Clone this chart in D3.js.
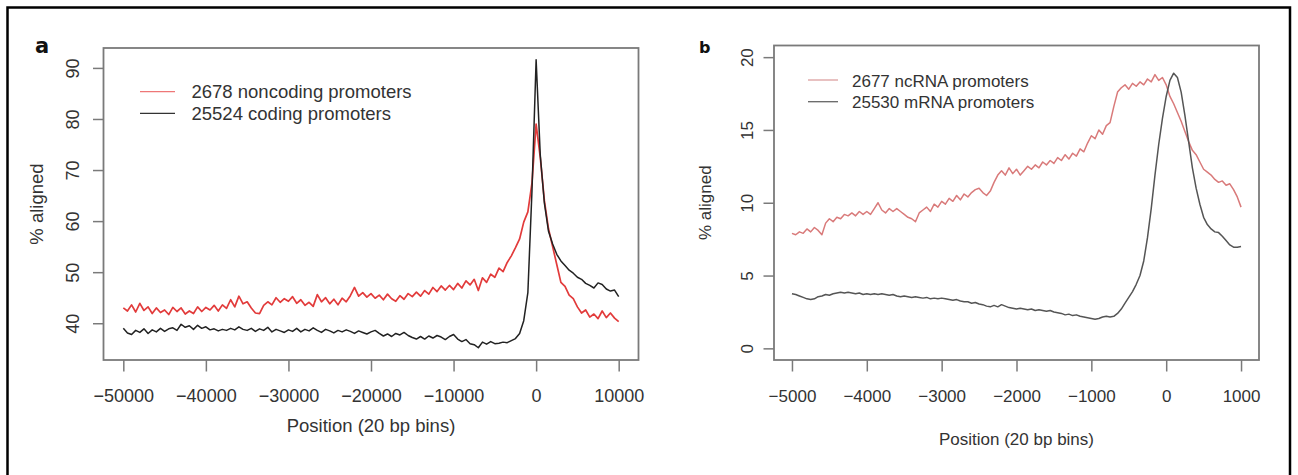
<!DOCTYPE html>
<html>
<head>
<meta charset="utf-8">
<script src="https://cdn.jsdelivr.net/npm/d3@7"></script>
<style>
  html, body { margin: 0; padding: 0; background: #fff; }
  svg text { font-family: "Liberation Sans", Arial, sans-serif; fill: #333; }
</style>
</head>
<body>
<svg id="chart" width="1298" height="475"></svg>
<script>
// panel a: 20 bp bins, read every 500 positions
const binsA = d3.range(-50000, 10001, 500);
const noncodingA = [
  43.0, 42.4, 43.6, 42.2, 43.9, 42.5, 43.2, 41.9, 43.0, 42.1,
  42.6, 41.7, 43.1, 42.3, 43.0, 41.8, 42.4, 41.9, 43.2, 42.3,
  43.1, 42.6, 43.5, 42.4, 43.6, 42.9, 44.6, 43.2, 45.3, 43.8,
  44.2, 43.0, 42.0, 41.9, 43.5, 44.2, 43.6, 45.0, 44.1, 44.8,
  44.3, 45.2, 43.9, 44.6, 43.5, 44.1, 43.3, 45.6, 44.2, 45.0,
  43.8, 44.7, 43.6, 44.9, 44.2, 45.4, 47.0, 45.3, 46.0, 45.1,
  45.8, 44.9, 45.5, 44.6, 45.7, 44.8, 44.3, 45.4, 44.7, 45.8,
  45.2, 46.1, 45.3, 46.4, 45.7, 47.0, 46.2, 47.3, 46.5, 47.4,
  46.6, 47.8, 46.9, 48.3, 47.5, 48.6, 46.4, 48.9, 48.0, 49.6,
  49.0, 50.8, 50.1, 51.9, 53.2, 54.8, 56.5, 59.8, 61.8, 67.5,
  79.0, 72.5, 64.0, 58.5, 55.0, 51.5, 48.0, 47.2, 45.5, 44.8,
  43.2, 42.0, 42.6, 41.2, 41.8, 40.9, 42.4, 41.1, 42.0, 41.0,
  40.3
];
const codingA = [
  39.0, 38.1, 37.8, 38.6, 38.2, 38.9, 38.0, 38.7, 38.3, 39.0,
  38.4, 38.9, 39.1, 38.6, 39.8, 39.2, 39.5, 38.8, 39.6, 39.0,
  39.3, 38.7, 38.9, 38.5, 38.8, 38.6, 39.0, 38.7, 39.3, 38.8,
  38.6, 39.0, 38.4, 38.9, 38.6, 39.2, 38.3, 38.8, 38.5, 38.2,
  38.7, 38.4, 39.0, 38.3, 38.8, 38.5, 39.1, 38.6, 38.2, 38.8,
  38.5, 38.1, 38.6, 38.3, 38.7, 38.4, 38.0, 38.5, 38.2, 37.9,
  38.3, 38.6, 38.0, 37.5, 37.9, 37.4, 38.0, 37.7, 38.2, 37.6,
  37.2, 36.9, 37.4, 36.9, 37.5, 37.1, 37.6, 37.3, 36.8, 37.4,
  37.8, 36.9, 36.4, 36.8, 36.0, 35.8, 35.2, 36.3, 35.9, 36.4,
  36.0, 36.1, 36.3, 36.2, 36.6, 37.0, 38.0, 40.5, 46.0, 66.0,
  91.6, 73.0, 63.5, 58.0, 55.5, 53.5, 52.2, 51.3, 50.4, 49.8,
  49.0, 48.6, 47.8, 47.4, 46.9, 47.9, 47.6, 46.7, 46.3, 46.5,
  45.2
];
const xTicksA = [-50000, -40000, -30000, -20000, -10000, 0, 10000];
const yTicksA = [40, 50, 60, 70, 80, 90];
const legendA = ["2678 noncoding promoters", "25524 coding promoters"];

// panel b: read every 50 positions
const binsB = d3.range(-5000, 1001, 50);
const ncrnaB = [
  7.9, 7.8, 8.0, 7.9, 8.2, 8.0, 8.3, 8.1, 7.8, 8.6,
  8.9, 8.7, 9.0, 8.9, 9.2, 9.1, 9.3, 9.1, 9.4, 9.2,
  9.4, 9.2, 9.6, 10.0, 9.5, 9.3, 9.6, 9.4, 9.6, 9.4,
  9.2, 9.0, 8.9, 8.7, 9.3, 9.5, 9.7, 9.4, 9.9, 9.7,
  10.1, 9.9, 10.3, 10.1, 10.5, 10.2, 10.6, 10.4, 10.7, 10.9,
  11.0, 10.7, 10.5, 10.8, 11.4, 11.9, 12.2, 11.9, 12.4, 12.0,
  12.3, 11.9, 12.2, 12.5, 12.3, 12.6, 12.4, 12.8, 12.6, 12.9,
  12.7, 13.1, 12.9, 13.3, 13.0, 13.4, 13.2, 13.7, 13.5, 14.1,
  14.6, 14.4, 15.0, 14.7, 15.3, 15.5, 16.6, 17.6, 17.9, 18.1,
  17.8, 18.2, 18.0, 18.3, 18.1, 18.5, 18.3, 18.8, 18.4, 18.6,
  18.1, 17.3, 16.8, 16.2, 15.6, 14.9, 14.2, 13.6, 13.3, 12.8,
  12.3, 12.1, 11.9, 11.6, 11.4, 11.5, 11.2, 11.3, 10.9, 10.4,
  9.7
];
const mrnaB = [
  3.75, 3.7, 3.6, 3.5, 3.4, 3.35, 3.4, 3.55, 3.6, 3.7,
  3.65, 3.75, 3.8, 3.85, 3.8, 3.85, 3.8, 3.75, 3.8, 3.7,
  3.75, 3.7, 3.75, 3.7, 3.75, 3.7, 3.65, 3.7, 3.6, 3.55,
  3.6, 3.55, 3.5, 3.55, 3.5, 3.45, 3.5, 3.4, 3.45, 3.4,
  3.45, 3.4, 3.35, 3.3, 3.35, 3.25, 3.2, 3.2, 3.1, 3.15,
  3.05, 3.0, 2.9, 2.85, 2.95, 2.85, 3.0, 2.9, 2.8, 2.75,
  2.7, 2.75, 2.7, 2.65, 2.7, 2.6, 2.65, 2.6, 2.55, 2.6,
  2.5, 2.45, 2.4, 2.3, 2.35, 2.25, 2.3, 2.2, 2.15, 2.1,
  2.05, 2.0, 2.05, 2.15, 2.2, 2.15, 2.2, 2.4, 2.7, 3.1,
  3.5, 3.9, 4.4, 5.0, 6.0, 7.6, 9.6, 11.9, 14.0, 15.8,
  17.3, 18.4, 18.9, 18.6, 17.6, 16.0, 14.2, 12.4, 11.0, 9.9,
  9.0, 8.5, 8.2, 8.0, 7.95, 7.7, 7.4, 7.1, 6.95, 6.95,
  7.0
];
const xTicksB = [-5000, -4000, -3000, -2000, -1000, 0, 1000];
const yTicksB = [0, 5, 10, 15, 20];
const legendB = ["2677 ncRNA promoters", "25530 mRNA promoters"];

const svg = d3.select("#chart");
const AXIS_GREY = "#7a7a7a";

function drawPanel(p) {
  const g = svg.append("g");
  const x = d3.scaleLinear().domain(p.xDomain).range([p.left, p.right]);
  const y = d3.scaleLinear().domain(p.yDomain).range([p.bottom, p.top]);

  p.series.forEach(s => {
    g.append("path")
      .datum(s.values)
      .attr("fill", "none")
      .attr("stroke", s.color)
      .attr("stroke-width", s.width)
      .attr("stroke-linejoin", "round")
      .attr("d", d3.line().x((d, i) => x(p.bins[i])).y(d => y(d)));
  });

  g.append("rect")
    .attr("x", p.left).attr("y", p.top)
    .attr("width", p.right - p.left).attr("height", p.bottom - p.top)
    .attr("fill", "none").attr("stroke", AXIS_GREY).attr("stroke-width", 1.8);

  const xa = g.append("g").attr("transform", `translate(0,${p.bottom})`)
    .call(d3.axisBottom(x).tickValues(p.xTicks).tickSize(11.5).tickFormat(d3.format("d")));
  xa.select(".domain").remove();
  xa.selectAll(".tick line").attr("stroke", AXIS_GREY).attr("stroke-width", 1.5);
  xa.selectAll(".tick text")
    .attr("y", 42).attr("dy", null)
    .style("font-size", p.font + "px");

  const ya = g.append("g").attr("transform", `translate(${p.left},0)`)
    .call(d3.axisLeft(y).tickValues(p.yTicks).tickSize(10.5));
  ya.select(".domain").remove();
  ya.selectAll(".tick line").attr("stroke", AXIS_GREY).attr("stroke-width", 1.5);
  ya.selectAll(".tick text")
    .attr("x", null).attr("dy", null)
    .attr("transform", `translate(${-p.yLabelOff},0) rotate(-90)`)
    .attr("text-anchor", "middle")
    .style("font-size", p.font + "px");

  // axis titles
  g.append("text")
    .attr("x", (p.left + p.right) / 2).attr("y", p.xTitleY)
    .attr("text-anchor", "middle")
    .style("font-size", p.titleFont + "px")
    .text("Position (20 bp bins)");
  g.append("text")
    .attr("transform", `translate(${p.yTitleX},${(p.top + p.bottom) / 2}) rotate(-90)`)
    .attr("text-anchor", "middle")
    .style("font-size", p.titleFont + "px")
    .text("% aligned");

  // panel letter
  g.append("text")
    .attr("x", p.letterX).attr("y", 53)
    .style("font-family", "'DejaVu Sans', sans-serif")
    .style("font-weight", "bold")
    .style("font-size", p.letterSize + "px")
    .style("fill", "#111")
    .text(p.letter);

  // legend
  const lg = g.append("g");
  p.series.forEach((s, i) => {
    const ly = p.legend.y + i * p.legend.gap;
    lg.append("line")
      .attr("x1", p.legend.x).attr("x2", p.legend.x + p.legend.len)
      .attr("y1", ly).attr("y2", ly)
      .attr("stroke", s.legendColor).attr("stroke-width", 1.3);
    lg.append("text")
      .attr("x", p.legend.x + p.legend.len + p.legend.pad).attr("y", ly + 6.5)
      .style("font-size", p.legendFont + "px")
      .text(p.labels[i]);
  });
}

drawPanel({
  left: 103.5, right: 638.5, top: 48, bottom: 360,
  xDomain: [-52400, 12400], yDomain: [32.8, 93.9],
  bins: binsA, xTicks: xTicksA, yTicks: yTicksA,
  series: [
    { values: noncodingA, color: "#e23b3b", legendColor: "#e77", width: 1.7 },
    { values: codingA, color: "#222", legendColor: "#333", width: 1.5 }
  ],
  labels: legendA,
  font: 18, titleFont: 18.5, legendFont: 18.5, yLabelOff: 25,
  xTitleY: 432, yTitleX: 43,
  letter: "a", letterX: 35, letterSize: 21,
  legend: { x: 140, y: 91.7, gap: 21.6, len: 35, pad: 16.5 }
});

drawPanel({
  left: 774, right: 1259, top: 45.5, bottom: 360,
  xDomain: [-5240, 1240], yDomain: [-0.8, 20.8],
  bins: binsB, xTicks: xTicksB, yTicks: yTicksB,
  series: [
    { values: ncrnaB, color: "#d97a7a", legendColor: "#dca0a0", width: 1.5 },
    { values: mrnaB, color: "#555", legendColor: "#666", width: 1.5 }
  ],
  labels: legendB,
  font: 17, titleFont: 17, legendFont: 17, yLabelOff: 21,
  xTitleY: 445, yTitleX: 711,
  letter: "b", letterX: 699, letterSize: 16,
  legend: { x: 808, y: 80, gap: 21.7, len: 30, pad: 14 }
});

// outer frame
svg.append("rect")
  .attr("x", 7.5).attr("y", 7.5)
  .attr("width", 1282.5).attr("height", 480)
  .attr("fill", "none").attr("stroke", "#000").attr("stroke-width", 2.5);
</script>
</body>
</html>
